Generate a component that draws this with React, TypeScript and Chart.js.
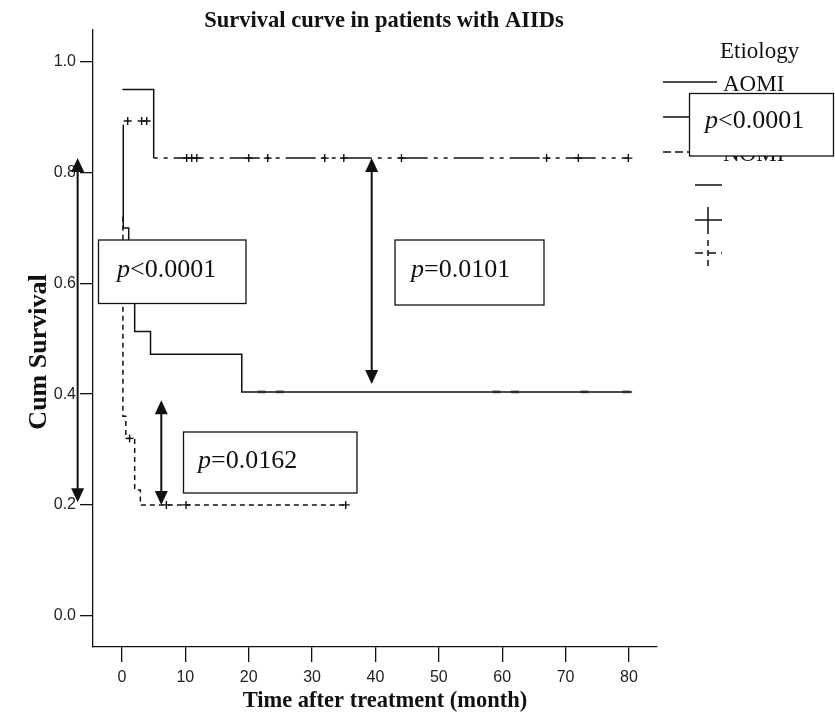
import React, { useEffect, useRef } from 'react';
import { Chart, registerables } from 'chart.js';

Chart.register(...registerables);

// ---------- data ----------
const xTickValues = [0, 10, 20, 30, 40, 50, 60, 70, 80];
const yTickValues = [0, 0.2, 0.4, 0.6, 0.8, 1.0];

// Kaplan–Meier steps: (time, survival after that time)
const aomiTimes = [0.2, 0.2, 1.06, 2.0, 4.5, 18.9, 80.5];
const aomiSurv = [0.886, 0.70, 0.60, 0.513, 0.472, 0.404, 0.404];

const mvtTimes = [0.06, 5.0, 79.9];
const mvtSurv = [0.95, 0.826, 0.826];

const nomiTimes = [0.15, 0.15, 0.6, 2.0, 2.9, 35.3];
const nomiSurv = [0.72, 0.36, 0.32, 0.227, 0.2, 0.2];

// censored observations
const aomiCensorTimes = [22.0, 24.9, 59.1, 62.0, 73.0, 79.6];
const aomiCensorSurv = [0.404, 0.404, 0.404, 0.404, 0.404, 0.404];

const mvtCensorTimes = [0.9, 3.1, 3.9, 10.2, 11.0, 11.8, 20.0, 23.0, 32.0, 35.0, 44.1, 67.0, 72.0, 79.9];
const mvtCensorSurv = [0.893, 0.893, 0.893, 0.826, 0.826, 0.826, 0.826, 0.826, 0.826, 0.826, 0.826, 0.826, 0.826, 0.826];

const nomiCensorTimes = [1.2, 7.0, 10.1, 35.3];
const nomiCensorSurv = [0.32, 0.2, 0.2, 0.2];

const groupLabels = ['AOMI', 'MVT', 'NOMI'];
const legendTitle = 'Etiology';
const chartTitle = 'Survival curve in patients with AIIDs';
const xTitle = 'Time after treatment (month)';
const yTitle = 'Cum Survival';

// comparisons: survival levels compared and their p values
const comparisons = [
  { at: -7.0, upper: 0.826, lower: 0.205, p: '<0.0001' },
  { at: 39.4, upper: 0.826, lower: 0.418, p: '=0.0101' },
  { at: 6.2, upper: 0.389, lower: 0.2, p: '=0.0162' },
];
const overallP = '<0.0001';

// ---------- layout (pixels) ----------
const W = 835;
const H = 719;
const SERIF = '"Liberation Serif", "Times New Roman", serif';
const SANS = '"Liberation Sans", Arial, sans-serif';
const INK = '#111';

const pBoxes = [
  { x: 98.5, y: 240, w: 147.5, h: 63.5, tx: 117, ty: 277 },
  { x: 395, y: 240, w: 149, h: 65, tx: 411, ty: 277 },
  { x: 183.5, y: 432, w: 173.5, h: 61, tx: 198, ty: 468 },
];

const pts = (xs: number[], ys: number[]) => xs.map((x, i) => ({ x, y: ys[i] }));

function drawP(ctx: CanvasRenderingContext2D, x: number, y: number, rest: string, size: number) {
  ctx.textAlign = 'left';
  ctx.textBaseline = 'alphabetic';
  ctx.fillStyle = INK;
  ctx.font = `italic ${size}px ${SERIF}`;
  ctx.fillText('p', x, y);
  const w = ctx.measureText('p').width;
  ctx.font = `${size}px ${SERIF}`;
  ctx.fillText(rest, x + w, y);
}

function drawArrow(ctx: CanvasRenderingContext2D, x: number, yTop: number, yBot: number) {
  const hh = 14;
  const hw = 6.5;
  ctx.strokeStyle = INK;
  ctx.fillStyle = INK;
  ctx.lineWidth = 2;
  ctx.setLineDash([]);
  ctx.beginPath();
  ctx.moveTo(x, yTop + hh - 1);
  ctx.lineTo(x, yBot - hh + 1);
  ctx.stroke();
  ctx.beginPath();
  ctx.moveTo(x, yTop);
  ctx.lineTo(x - hw, yTop + hh);
  ctx.lineTo(x + hw, yTop + hh);
  ctx.closePath();
  ctx.fill();
  ctx.beginPath();
  ctx.moveTo(x, yBot);
  ctx.lineTo(x - hw, yBot - hh);
  ctx.lineTo(x + hw, yBot - hh);
  ctx.closePath();
  ctx.fill();
}

function box(ctx: CanvasRenderingContext2D, x: number, y: number, w: number, h: number) {
  ctx.setLineDash([]);
  ctx.fillStyle = '#fff';
  ctx.fillRect(x, y, w, h);
  ctx.strokeStyle = INK;
  ctx.lineWidth = 1.3;
  ctx.strokeRect(x, y, w, h);
}

function seg(ctx: CanvasRenderingContext2D, x1: number, y1: number, x2: number, y2: number, dash: number[] = []) {
  ctx.setLineDash(dash);
  ctx.beginPath();
  ctx.moveTo(x1, y1);
  ctx.lineTo(x2, y2);
  ctx.stroke();
}

const decorPlugin = {
  id: 'decor',
  afterDraw(chart: any) {
    const ctx: CanvasRenderingContext2D = chart.ctx;
    const xs = chart.scales.x;
    const ys = chart.scales.y;
    ctx.save();

    // titles
    ctx.fillStyle = INK;
    ctx.textAlign = 'center';
    ctx.textBaseline = 'middle';
    ctx.font = `bold 22.5px ${SERIF}`;
    ctx.fillText(chartTitle, 384, 21);
    ctx.font = `bold 22.5px ${SERIF}`;
    ctx.fillText(xTitle, 385, 701);
    ctx.save();
    ctx.translate(39, 352);
    ctx.rotate(-Math.PI / 2);
    ctx.font = `bold 26px ${SERIF}`;
    ctx.fillText(yTitle, 0, 0);
    ctx.restore();

    // comparison arrows
    comparisons.forEach((c) => {
      drawArrow(ctx, xs.getPixelForValue(c.at), ys.getPixelForValue(c.upper), ys.getPixelForValue(c.lower));
    });

    // p-value boxes
    comparisons.forEach((c, i) => {
      const b = pBoxes[i];
      box(ctx, b.x, b.y, b.w, b.h);
      drawP(ctx, b.tx, b.ty, c.p, 26);
    });

    // legend
    ctx.fillStyle = INK;
    ctx.textAlign = 'left';
    ctx.textBaseline = 'alphabetic';
    ctx.font = `23px ${SERIF}`;
    ctx.fillText(legendTitle, 720, 58);
    ctx.strokeStyle = INK;
    ctx.lineWidth = 1.5;
    const rowY = [82, 117, 152];
    groupLabels.forEach((lab, i) => {
      seg(ctx, 663, rowY[i], 717, rowY[i], i === 2 ? [8, 4] : []);
      ctx.setLineDash([]);
      ctx.fillText(lab, 723, rowY[i] + 9);
    });
    // censored symbols
    seg(ctx, 695, 185, 722, 185);
    seg(ctx, 695, 220, 722, 220);
    seg(ctx, 708, 207, 708, 234);
    seg(ctx, 695, 253, 722, 253, [8, 5]);
    seg(ctx, 708, 240, 708, 267, [6, 4]);
    ctx.setLineDash([]);

    // overall p box over legend
    box(ctx, 689.5, 93.5, 144, 62.5);
    drawP(ctx, 705, 128, overallP, 26);

    ctx.restore();
  },
};

export default function App() {
  const ref = useRef<HTMLCanvasElement | null>(null);

  useEffect(() => {
    const canvas = ref.current;
    if (!canvas) return;
    const crossStyle = {
      showLine: false,
      pointStyle: 'cross',
      pointRadius: 4,
      pointBorderWidth: 1.4,
      pointBorderColor: INK,
      pointBackgroundColor: INK,
      borderColor: INK,
    };
    const chart = new Chart(canvas, {
      type: 'line',
      data: {
        datasets: [
          {
            label: groupLabels[0],
            data: pts(aomiTimes, aomiSurv),
            stepped: 'before',
            borderColor: INK,
            borderWidth: 1.5,
            pointRadius: 0,
            fill: false,
          },
          {
            label: groupLabels[1],
            data: pts(mvtTimes, mvtSurv),
            stepped: 'before',
            borderColor: INK,
            borderWidth: 1.5,
            pointRadius: 0,
            fill: false,
            segment: {
              borderDash: (c: any) => (c.p0DataIndex === 0 ? [] : [4, 6, 4, 6, 30, 6]),
            },
          },
          {
            label: groupLabels[2],
            data: pts(nomiTimes, nomiSurv),
            stepped: 'before',
            borderColor: INK,
            borderWidth: 1.5,
            borderDash: [5, 4],
            pointRadius: 0,
            fill: false,
          },
          {
            label: groupLabels[0] + ' censored',
            data: pts(aomiCensorTimes, aomiCensorSurv),
            showLine: false,
            pointStyle: 'line',
            pointRadius: 4,
            pointBorderWidth: 3,
            pointBorderColor: '#8a8a8a',
            borderColor: '#8a8a8a',
          },
          { label: groupLabels[1] + ' censored', data: pts(mvtCensorTimes, mvtCensorSurv), ...crossStyle },
          { label: groupLabels[2] + ' censored', data: pts(nomiCensorTimes, nomiCensorSurv), ...crossStyle },
        ] as any,
      },
      options: {
        animation: false,
        responsive: false,
        devicePixelRatio: 1,
        events: [],
        layout: { padding: { left: 0, right: 178, top: 30, bottom: 0 } },
        plugins: {
          legend: { display: false },
          tooltip: { enabled: false },
          title: { display: false },
        },
        scales: {
          x: {
            type: 'linear',
            min: -4.576,
            max: 84.42,
            afterBuildTicks: (s: any) => {
              s.ticks = xTickValues.map((v) => ({ value: v }));
            },
            afterFit: (s: any) => {
              s.height = 72;
            },
            grid: { drawOnChartArea: false, drawTicks: true, tickLength: 15, color: INK, lineWidth: 1.3 },
            border: { display: true, color: INK, width: 1.3 },
            ticks: {
              autoSkip: false,
              maxRotation: 0,
              padding: 6,
              color: '#222',
              font: { family: SANS, size: 16 },
              callback: (v: any) => String(v),
            },
          },
          y: {
            type: 'linear',
            min: -0.0565,
            max: 1.0572,
            afterBuildTicks: (s: any) => {
              s.ticks = yTickValues.map((v) => ({ value: v }));
            },
            afterFit: (s: any) => {
              s.width = 93;
            },
            grid: { drawOnChartArea: false, drawTicks: true, tickLength: 13, color: INK, lineWidth: 1.3 },
            border: { display: true, color: INK, width: 1.3 },
            ticks: {
              autoSkip: false,
              padding: 4,
              color: '#222',
              font: { family: SANS, size: 16 },
              callback: (v: any) => Number(v).toFixed(1),
            },
          },
        },
      } as any,
      plugins: [decorPlugin],
    });
    return () => chart.destroy();
  }, []);

  return (
    <div style={{ position: 'absolute', left: 0, top: 0, width: W, height: H, background: '#fff' }}>
      <canvas ref={ref} width={W} height={H} style={{ display: 'block', width: W, height: H }} />
    </div>
  );
}
